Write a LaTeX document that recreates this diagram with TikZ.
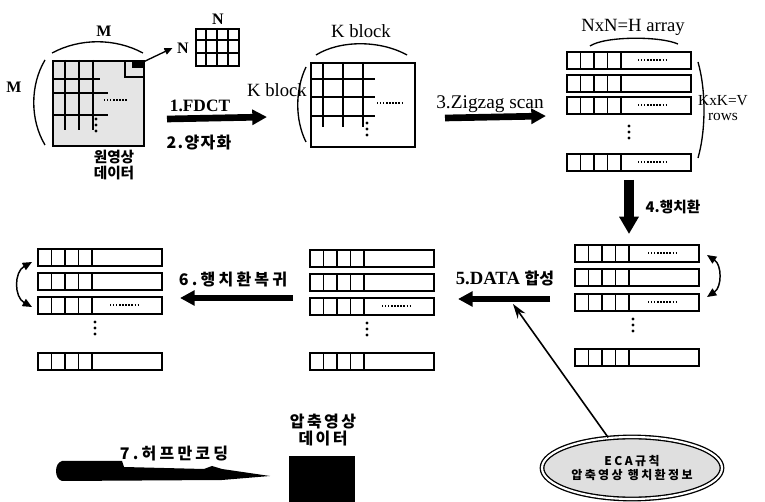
\documentclass[tikz,border=0pt]{standalone}
\usepackage{fontspec}
\setmainfont{Liberation Serif}
\newfontfamily\kr{Noto Sans CJK KR}
\usetikzlibrary{arrows.meta,shapes.geometric}
\begin{document}
\begin{tikzpicture}[x=0.75pt,y=-0.75pt,
  rowline/.style={line width=1.3pt},
  gridline/.style={line width=1.2pt},
  celldot/.style={line width=1.1pt,dash pattern=on 1pt off 1.3pt},
  brace/.style={line width=1pt},
  bigarrow/.style={line width=5pt,-{Triangle[length=11pt,width=11pt]}},
  lab/.style={font=\fontsize{14}{16}\selectfont},
  slab/.style={font=\fontsize{11}{13}\selectfont\bfseries},
  klab/.style={font=\kr\fontsize{11}{13}\selectfont\bfseries},
  kwide/.style={font=\kr\fontsize{12}{14}\selectfont\bfseries\addfontfeature{LetterSpace=20}},
  hrow/.pic={
    \draw[rowline] (0,0) rectangle (124,17);
    \foreach \i in {1,2,3,4}{\draw[rowline] (13.5*\i,0) -- (13.5*\i,17);}
  },
]
\useasboundingbox (0,0) rectangle (765,502);

\newcommand\rowdots[2]{\draw[celldot] (#1,#2) -- ++(28,0);}
\newcommand\vdotsat[2]{\foreach \k in {0,6,12}{\fill (#1,#2+\k) circle (1.2pt);}}

% ---------- original image block ----------
\node[draw, rectangle, inner sep=0pt, minimum width=68.25pt, minimum height=63.75pt,
      anchor=north west, fill=gray!20, line width=1.4pt] (orig) at (52,60) {};
\foreach \xx in {65,79,93}{\draw[gridline] (\xx,60) -- (\xx,130);}
\draw[gridline] (52,79) -- (100,79);
\draw[gridline] (52,93) -- (108,93);
\draw[gridline] (52,115) -- (108,115);
\draw[celldot] (104,100) -- (128,100);
\vdotsat{96}{119}
\draw[line width=1pt] (125,62) -- (125,77) -- (143,77);
\fill (132,62) rectangle (143,68);
\coordinate (corner) at (139,64);
\draw[brace] (52,53) .. controls (80,38) and (115,38) .. (143,53);
\node[slab, font=\fontsize{12}{14}\selectfont\bfseries] (mtop) at (104,31) {M};
\draw[brace] (45,60) .. controls (30,85) and (30,120) .. (45,145);
\node[slab, font=\fontsize{12}{14}\selectfont\bfseries] (mleft) at (14,87) {M};
\node[klab, align=center, inner sep=0pt] (orilab) at (114,165) {원영상\\[-1pt]데이터};

% small N x N block
\node[draw, rectangle, inner sep=0pt, minimum width=32.25pt, minimum height=27.75pt,
      anchor=north west, line width=1.4pt] (small) at (195,28) {};
\foreach \xx in {206,217,228}{\draw[gridline] (\xx,28) -- (\xx,65);}
\foreach \yy in {40,53}{\draw[gridline] (195,\yy) -- (238,\yy);}
\node[slab, font=\fontsize{12}{14}\selectfont\bfseries] (ntop) at (218,19) {N};
\node[slab, font=\fontsize{12}{14}\selectfont\bfseries] (nside) at (183,48) {N};
\draw[line width=1pt, -{Triangle[length=6pt,width=5pt]}] (corner) -- (nside.west);

% arrow 1
\coordinate (a1s) at (167,119);
\coordinate (a1e) at (267,117);
\draw[bigarrow] (a1s) -- (a1e);
\node[font=\fontsize{13}{15}\selectfont\bfseries] (fdct) at (200,106) {1.FDCT};
\node[font=\kr\fontsize{12}{14}\selectfont\bfseries\addfontfeature{LetterSpace=8}] (quant) at (199,143) {2.양자화};

% ---------- K block ----------
\node[draw, rectangle, inner sep=0pt, minimum width=78pt, minimum height=63pt,
      anchor=north west, line width=1.4pt] (kblk) at (310,62) {};
\foreach \xx in {323,343,363}{\draw[gridline] (\xx,62) -- (\xx,127);}
\foreach \yy in {79,97,116}{\draw[gridline] (310,\yy) -- (375,\yy);}
\draw[celldot] (377,103) -- (402,103);
\vdotsat{367}{123}
\draw[brace] (316,55) .. controls (340,40) and (380,40) .. (407,55);
\node[lab] (kbtop) at (361,31) {K block};
\draw[brace] (306,67) .. controls (295,90) and (295,120) .. (306,142);
\node[lab] (kbleft) at (277,90) {K block};

% arrow 3
\coordinate (a3s) at (445,118);
\coordinate (a3e) at (546,116);
\draw[bigarrow] (a3s) -- (a3e);
\node[lab, font=\fontsize{14.5}{16}\selectfont] (zz) at (490,104) {3.Zigzag scan};

% ---------- H array rows (top right) ----------
\foreach \yy in {52,75,97,154}{\pic at (567,\yy) {hrow};}
\rowdots{638}{60}
\rowdots{638}{105}
\rowdots{638}{162}
\vdotsat{629}{126}
\draw[brace] (590,46) .. controls (605,36) and (660,36) .. (678,44);
\node[lab] (harr) at (633,27) {NxN=H array};
\draw[brace] (698,62) .. controls (706,90) and (706,130) .. (698,158);
\node[font=\fontsize{11.5}{13}\selectfont, align=center, inner sep=0pt] (vrows) at (723,108) {KxK=V\\[-2pt]rows};

% arrow 4
\coordinate (a4s) at (629,180);
\coordinate (a4e) at (629,234);
\draw[line width=7pt,-{Triangle[length=13pt,width=14pt]}] (a4s) -- (a4e);
\node[klab] (perm) at (673,207) {4.행치환};

% ---------- rows after permutation (middle right) ----------
\foreach \yy in {245,269,294,349}{\pic at (575,\yy) {hrow};}
\rowdots{648}{253}
\rowdots{648}{302}
\vdotsat{633}{319}
\draw[line width=1.1pt, {Triangle[length=7pt,width=6pt]}-{Triangle[length=7pt,width=6pt]}]
  (707,255) .. controls (722,265) and (722,287) .. (707,297);

% arrow 5
\coordinate (a5s) at (550,299);
\coordinate (a5e) at (458,299);
\draw[bigarrow] (a5s) -- (a5e);
\node[klab, font=\kr\fontsize{12}{14}\selectfont\bfseries] (synth) at (505,278) {\fontspec{Liberation Serif}\fontsize{14}{16}\selectfont 5.DATA \kr\fontsize{12}{14}\selectfont 합성};
\coordinate (d5) at (513,304);

% ---------- middle rows ----------
\foreach \yy in {250,274,298,353}{\pic at (310,\yy) {hrow};}
\rowdots{382}{306}
\vdotsat{367}{323}

% arrow 6
\coordinate (a6s) at (293,298);
\coordinate (a6e) at (180,298);
\draw[bigarrow] (a6s) -- (a6e);
\node[kwide] (unperm) at (233,279) {6.행치환복귀};

% ---------- left rows ----------
\foreach \yy in {249,273,297,353}{\pic at (38,\yy) {hrow};}
\rowdots{110}{305}
\vdotsat{95}{322}
\draw[line width=1.1pt, {Triangle[length=7pt,width=6pt]}-{Triangle[length=7pt,width=6pt]}]
  (32,262) .. controls (14,272) and (14,297) .. (32,307);

% ---------- ellipse (table) ----------
\node[ellipse, draw, double, double distance=1.6pt, line width=1pt, fill=gray!25,
      minimum width=135pt, minimum height=46.5pt, inner sep=0pt,
      font=\kr\fontsize{9}{11}\selectfont\bfseries\addfontfeature{LetterSpace=20}, align=center] (ell) at (632,468)
      {ECA규칙\\압축영상 행치환정보};
\draw[line width=1.2pt, -{Stealth[length=11pt,width=7pt]}] (ell.128) -- (d5);

% ---------- Huffman coding ----------
\fill (62,461) -- (122,461) -- (124,467) -- (204,469) -- (212,466) -- (222,469)
      -- (270,476) -- (222,480) -- (62,481)
      .. controls (54,479) and (54,463) .. (62,461) -- cycle;
\node[kwide] (huff) at (174,454) {7.허프만코딩};

\node[fill=black, inner sep=0pt, minimum width=49.5pt, minimum height=34.5pt,
      anchor=north west] (comp) at (289,456) {};
\node[font=\kr\fontsize{12}{14}\selectfont\bfseries\addfontfeature{LetterSpace=15}, align=center, inner sep=0pt] (complab) at (323,430) {압축영상\\[-1pt]데이터};
\end{tikzpicture}
\end{document}
